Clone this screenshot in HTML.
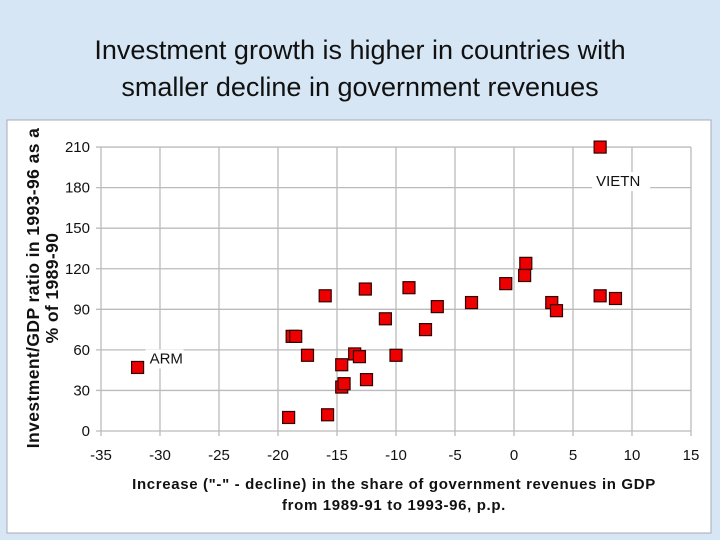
<!DOCTYPE html>
<html><head><meta charset="utf-8"><style>
body{margin:0;width:720px;height:540px;overflow:hidden;background:#d6e6f5;font-family:"Liberation Sans",sans-serif;}
#title{position:absolute;left:0;top:32px;width:720px;text-align:center;font-size:27px;line-height:37px;color:#111;}
svg{position:absolute;left:0;top:0;}
</style></head><body>
<div id="title">Investment growth is higher in countries with<br>smaller decline in government revenues</div>
<svg id="c" width="720" height="540">
<rect x="7" y="120" width="704" height="413" fill="#fff" stroke="#aab"/>
</svg>
<script>
const xTicks=[-35,-30,-25,-20,-15,-10,-5,0,5,10,15];
const yTicks=[0,30,60,90,120,150,180,210];
const xVals=[-31.9,-18.8,-18.5,-19.1,-17.5,-16.0,-15.8,-14.6,-14.4,-14.6,-13.5,-13.1,-12.6,-12.5,-10.9,-10.0,-8.9,-7.5,-6.5,-3.6,-0.7,1.0,0.9,3.2,3.6,7.3,7.3,8.6];
const yVals=[47,70,70,10,56,100,12,32.5,35,49,57,55,105,38,83,56,106,75,92,95,109,124,115,95,89,210,100,98];
const labels=[{t:"ARM",x:-31.9,y:47},{t:"VIETN",x:7.3,y:210}];
const NS="http://www.w3.org/2000/svg";
const svg=document.getElementById('c');
const X=v=>101+(v+35)*11.8;
const Y=v=>431-v*1.352;
function mk(tag,at,txt){const e=document.createElementNS(NS,tag);for(const k in at)e.setAttribute(k,at[k]);if(txt!==undefined)e.textContent=txt;svg.appendChild(e);return e;}
xTicks.forEach(t=>{
 const l=mk('line',{x1:X(t),x2:X(t),y1:Y(210),y2:Y(0)+5,stroke:'#bbb','stroke-width':1.3});
 
 
 const s=mk('text',{x:X(t),y:460,'text-anchor':'middle','font-size':15,fill:'#111'},t);
 
 
});
yTicks.forEach(t=>{
 const l=mk('line',{x1:X(-35)-5,x2:X(15),y1:Y(t),y2:Y(t),stroke:'#bbb','stroke-width':1.3});
 
 
 const s=mk('text',{x:90,y:Y(t)+5,'text-anchor':'end','font-size':15,fill:'#111'},t);
 
 
});
labels.forEach(o=>{
 const dx=o.t==='ARM'?12:-4, dy=o.t==='ARM'?-4:39;
 const r=mk('rect',{x:X(o.x)+dx-4,y:Y(o.y)+dy-14,width:o.t.length*10+8,height:19,fill:'#fff'});
 
 
 const s=mk('text',{x:X(o.x)+dx,y:Y(o.y)+dy,'font-size':15,fill:'#111'},o.t);
 
 
});
xVals.forEach((v,i)=>{
 const r=mk('rect',{x:X(v)-6,y:Y(yVals[i])-6,width:12,height:12,fill:'#e00',stroke:'#300','stroke-width':1.2});
 
 
});
let a=mk('text',{x:394,y:489,'text-anchor':'middle','font-size':15,'font-weight':'bold',fill:'#111','letter-spacing':'0.65'},'Increase ("-" - decline) in the share of government revenues in GDP');


a=mk('text',{x:394,y:510,'text-anchor':'middle','font-size':15,'font-weight':'bold',fill:'#111','letter-spacing':'0.65'},'from 1989-91 to 1993-96, p.p.');


a=mk('text',{x:0,y:0,'text-anchor':'middle','font-size':17.5,'font-weight':'bold',fill:'#111','letter-spacing':'0.4',transform:'translate(39,288) rotate(-90)'},'Investment/GDP ratio in 1993-96 as a');


a=mk('text',{x:0,y:0,'text-anchor':'middle','font-size':17.5,'font-weight':'bold',fill:'#111','letter-spacing':'0.4',transform:'translate(58,288) rotate(-90)'},'% of 1989-90');


</script>
</body></html>
